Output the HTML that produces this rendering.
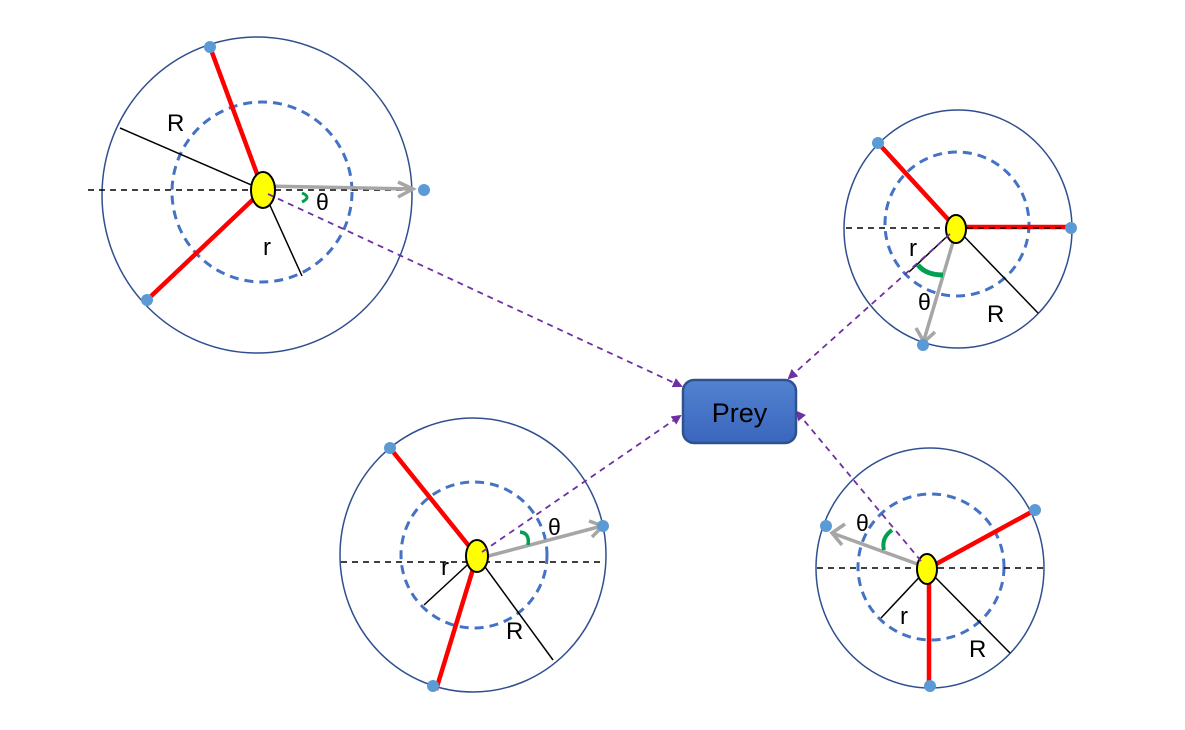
<!DOCTYPE html>
<html><head><meta charset="utf-8"><style>html,body{margin:0;padding:0;background:#fff;}svg{display:block}</style></head>
<body>
<svg width="1185" height="730" viewBox="0 0 1185 730" xmlns="http://www.w3.org/2000/svg" font-family="Liberation Sans, sans-serif">
<defs>
<marker id="pa" markerWidth="10" markerHeight="10" refX="8" refY="5" orient="auto" markerUnits="userSpaceOnUse"><path d="M0,0 L10,5 L0,10 Z" fill="#7030a0"/></marker>
<linearGradient id="pg" x1="0" y1="0" x2="0" y2="1"><stop offset="0" stop-color="#5282d0"/><stop offset="1" stop-color="#3a66bd"/></linearGradient>
</defs>

<!-- Circle 1 -->
<ellipse cx="257" cy="195" rx="155" ry="158" fill="none" stroke="#2f4f8f" stroke-width="1.5"/>
<circle cx="262" cy="192" r="90" fill="none" stroke="#4472c4" stroke-width="3" stroke-dasharray="9,6"/>
<line x1="88" y1="190" x2="420" y2="190" stroke="#000" stroke-width="1.5" stroke-dasharray="6,5"/>
<line x1="263" y1="190" x2="120" y2="128" stroke="#000" stroke-width="1.5"/>
<line x1="263" y1="190" x2="302" y2="276" stroke="#000" stroke-width="1.5"/>
<line x1="263" y1="190" x2="210" y2="47" stroke="#ff0000" stroke-width="4.5"/>
<line x1="263" y1="190" x2="147" y2="300" stroke="#ff0000" stroke-width="4.5"/>
<line x1="263" y1="186" x2="412" y2="189" stroke="#a6a6a6" stroke-width="3.5"/>
<path d="M398,182 L413,189 L398,197" fill="none" stroke="#a6a6a6" stroke-width="3.5"/>
<circle cx="424" cy="190" r="6" fill="#5b9bd5"/>
<circle cx="210" cy="47" r="6" fill="#5b9bd5"/>
<circle cx="147" cy="300" r="6" fill="#5b9bd5"/>
<path d="M302,193 Q312,197 302,202" fill="none" stroke="#00a050" stroke-width="3"/>
<ellipse cx="263" cy="190" rx="12" ry="18" fill="#ffff00" stroke="#000" stroke-width="2"/>
<text x="167" y="131" font-size="24">R</text>
<text x="263" y="255" font-size="24">r</text>
<text x="316" y="210" font-size="23">θ</text>

<!-- Circle 2 -->
<ellipse cx="958" cy="229" rx="114" ry="119" fill="none" stroke="#2f4f8f" stroke-width="1.5"/>
<circle cx="957" cy="224" r="72" fill="none" stroke="#4472c4" stroke-width="3" stroke-dasharray="9,6"/>
<line x1="846" y1="228" x2="1070" y2="228" stroke="#000" stroke-width="1.5" stroke-dasharray="6,5"/>
<line x1="956" y1="228" x2="1038" y2="313" stroke="#000" stroke-width="1.5"/>
<line x1="956" y1="228" x2="909" y2="272" stroke="#000" stroke-width="1.5"/>
<line x1="956" y1="228" x2="878" y2="143" stroke="#ff0000" stroke-width="4.5"/>
<line x1="956" y1="227" x2="1071" y2="227" stroke="#ff0000" stroke-width="4.5"/>
<line x1="956" y1="228" x2="1071" y2="228" stroke="#000" stroke-width="1.5" stroke-dasharray="6,5"/>
<line x1="956" y1="232" x2="924" y2="340" stroke="#a6a6a6" stroke-width="3.5"/>
<path d="M916,328 L924,342 L935,332" fill="none" stroke="#a6a6a6" stroke-width="3.5"/>
<circle cx="923" cy="345" r="6" fill="#5b9bd5"/>
<circle cx="878" cy="143" r="6" fill="#5b9bd5"/>
<circle cx="1071" cy="228" r="6" fill="#5b9bd5"/>
<path d="M918,265 Q926,275 943,275" fill="none" stroke="#00a050" stroke-width="5"/>
<ellipse cx="956" cy="229" rx="10" ry="14" fill="#ffff00" stroke="#000" stroke-width="2"/>
<text x="909" y="256" font-size="24">r</text>
<text x="918" y="310" font-size="23">θ</text>
<text x="987" y="322" font-size="24">R</text>

<!-- Circle 3 -->
<ellipse cx="473" cy="555" rx="133" ry="137" fill="none" stroke="#2f4f8f" stroke-width="1.5"/>
<circle cx="474" cy="555" r="73" fill="none" stroke="#4472c4" stroke-width="3" stroke-dasharray="9,6"/>
<line x1="341" y1="562" x2="603" y2="562" stroke="#000" stroke-width="1.5" stroke-dasharray="6,5"/>
<line x1="477" y1="556" x2="424" y2="605" stroke="#000" stroke-width="1.5"/>
<line x1="477" y1="556" x2="553" y2="660" stroke="#000" stroke-width="1.5"/>
<line x1="477" y1="556" x2="390" y2="448" stroke="#ff0000" stroke-width="4.5"/>
<line x1="477" y1="556" x2="436" y2="690" stroke="#ff0000" stroke-width="4.5"/>
<line x1="477" y1="559" x2="602" y2="526" stroke="#a6a6a6" stroke-width="3.5"/>
<path d="M589,521 L603,526 L592,537" fill="none" stroke="#a6a6a6" stroke-width="3.5"/>
<circle cx="603" cy="526" r="6" fill="#5b9bd5"/>
<circle cx="390" cy="448" r="6" fill="#5b9bd5"/>
<circle cx="433" cy="686" r="6" fill="#5b9bd5"/>
<path d="M520,532 Q530,533 528,545" fill="none" stroke="#00a050" stroke-width="3.5"/>
<ellipse cx="477" cy="556" rx="11" ry="16" fill="#ffff00" stroke="#000" stroke-width="2"/>
<text x="441" y="575" font-size="24">r</text>
<text x="548" y="535" font-size="23">θ</text>
<text x="506" y="639" font-size="24">R</text>

<!-- Circle 4 -->
<ellipse cx="930" cy="568" rx="114" ry="120" fill="none" stroke="#2f4f8f" stroke-width="1.5"/>
<circle cx="931" cy="567" r="73" fill="none" stroke="#4472c4" stroke-width="3" stroke-dasharray="9,6"/>
<line x1="817" y1="568" x2="1043" y2="568" stroke="#000" stroke-width="1.5" stroke-dasharray="6,5"/>
<line x1="927" y1="569" x2="881" y2="618" stroke="#000" stroke-width="1.5"/>
<line x1="927" y1="569" x2="1010" y2="653" stroke="#000" stroke-width="1.5"/>
<line x1="927" y1="569" x2="1035" y2="510" stroke="#ff0000" stroke-width="4.5"/>
<line x1="929" y1="569" x2="929" y2="686" stroke="#ff0000" stroke-width="4.5"/>
<line x1="920" y1="565" x2="832" y2="533" stroke="#a6a6a6" stroke-width="3.5"/>
<path d="M845,524 L832,533 L842,545" fill="none" stroke="#a6a6a6" stroke-width="3.5"/>
<circle cx="826" cy="526" r="6" fill="#5b9bd5"/>
<circle cx="1035" cy="510" r="6" fill="#5b9bd5"/>
<circle cx="930" cy="686" r="6" fill="#5b9bd5"/>
<path d="M892,530 Q881,538 884,550" fill="none" stroke="#00a050" stroke-width="4"/>
<ellipse cx="927" cy="569" rx="10" ry="15" fill="#ffff00" stroke="#000" stroke-width="2"/>
<text x="856" y="531" font-size="23">θ</text>
<text x="900" y="624" font-size="24">r</text>
<text x="969" y="657" font-size="24">R</text>

<!-- Purple connectors -->
<g stroke="#7030a0" stroke-width="1.8" stroke-dasharray="6,5" fill="none" marker-end="url(#pa)">
<line x1="268" y1="194" x2="681" y2="386"/>
<line x1="950" y1="234" x2="789" y2="378"/>
<line x1="482" y1="552" x2="680" y2="416"/>
<line x1="921" y1="561" x2="797" y2="412"/>
</g>

<!-- Prey -->
<rect x="683" y="380" width="113" height="63" rx="11" fill="url(#pg)" stroke="#2f528f" stroke-width="2.5"/>
<text x="739.5" y="422" font-size="27" text-anchor="middle" fill="#000">Prey</text>
</svg>
</body></html>
